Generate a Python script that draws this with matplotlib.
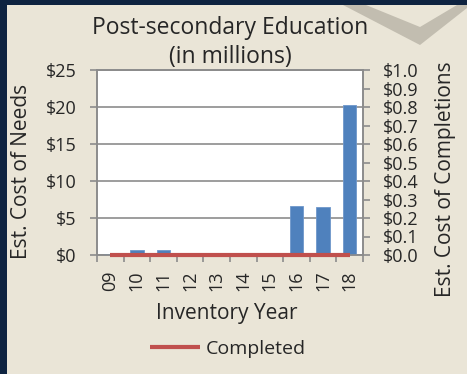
import numpy as np
import matplotlib.pyplot as plt
from matplotlib.patches import Rectangle, Polygon

plt.rcParams['font.family'] = ['Open Sans', 'DejaVu Sans']

# Dados
anos = ['09', '10', '11', '12', '13', '14', '15', '16', '17', '18']
custo_necessidades = [0.15, 0.7, 0.7, 0, 0, 0, 0, 6.6, 6.5, 20.3]
custo_concluidos = [0, 0, 0, 0, 0, 0, 0, 0, 0, 0]

cor_fundo = '#EAE5D7'
cor_borda = '#0E2340'
cor_barra = '#4F81BD'
cor_linha = '#C0504D'
cor_grade = '#8C8C8C'
cor_texto = '#262626'

W, H = 467, 374
fig = plt.figure(figsize=(W / 100, H / 100), dpi=100)
fig.patch.set_facecolor(cor_fundo)


def px(x, y):
    return (x / W, 1 - y / H)


# Moldura escura e o "V" decorativo no canto
fig.patches.append(Polygon([px(343, 5), px(420, 45), px(467, 8), px(467, 5),
                            px(457, 5), px(420, 27), px(366, 5)],
                           closed=True, transform=fig.transFigure,
                           facecolor='#C2BDB0', edgecolor='none', zorder=0))
fig.patches.append(Rectangle((0, 0), 7 / W, 1, transform=fig.transFigure,
                             facecolor=cor_borda, edgecolor='none', zorder=1))
fig.patches.append(Rectangle((0, 1 - 5 / H), 1, 5 / H, transform=fig.transFigure,
                             facecolor=cor_borda, edgecolor='none', zorder=1))

ax = fig.add_axes([97 / W, 1 - 255 / H, 266 / W, 185 / H])
ax.set_facecolor('white')
x = np.arange(len(anos))

ax.bar(x, custo_necessidades, 0.5, color=cor_barra, edgecolor='#6E97CB',
       linewidth=0.6, zorder=3)
ax.set_xlim(-0.5, len(anos) - 0.5)
ax.set_ylim(0, 25)
ax.set_yticks(np.arange(0, 26, 5))
ax.set_yticklabels([f'${v}' for v in range(0, 26, 5)])
ax.yaxis.grid(True, color=cor_grade, linewidth=1.2, zorder=1)

# marcas entre as categorias, rótulos no centro
ax.set_xticks(np.arange(-0.5, len(anos), 1.0))
ax.set_xticklabels([])
ax.set_xticks(x, minor=True)
ax.set_xticklabels(anos, minor=True, rotation=90)
ax.tick_params(axis='x', which='major', direction='out', length=5,
               width=1.2, color=cor_grade)
ax.tick_params(axis='x', which='minor', length=0, pad=11,
               labelsize=13, labelcolor=cor_texto)
ax.tick_params(axis='y', direction='out', length=5, width=1.2,
               color=cor_grade, labelsize=13, labelcolor=cor_texto, pad=10)

for lado in ax.spines.values():
    lado.set_color(cor_grade)
    lado.set_linewidth(1.2)

ax2 = ax.twinx()
ax2.plot(x, custo_concluidos, color=cor_linha, linewidth=3,
         solid_capstyle='butt', label='Completed', zorder=4, clip_on=False)
ax2.set_ylim(0, 1.0)
ax2.set_yticks(np.round(np.arange(0, 1.01, 0.1), 1))
ax2.set_yticklabels([f'${v:.1f}' for v in np.arange(0, 1.01, 0.1)])
ax2.tick_params(axis='y', direction='out', length=5, width=1.2,
                color=cor_grade, labelsize=13, labelcolor=cor_texto, pad=9)
for lado in ax2.spines.values():
    lado.set_color(cor_grade)
    lado.set_linewidth(1.2)

ax.set_title('Post-secondary Education\n(in millions)', fontsize=16.5,
             color=cor_texto, pad=5, linespacing=1.3)
ax.set_xlabel('Inventory Year', fontsize=15, color=cor_texto)
ax.xaxis.set_label_coords(0.489, -0.259)
ax.set_ylabel('Est. Cost of Needs', fontsize=15, color=cor_texto)
ax.yaxis.set_label_coords(-0.245, 0.45)
ax2.set_ylabel('Est. Cost of Completions', fontsize=15, color=cor_texto,
               rotation=90)
ax2.yaxis.set_label_coords(1.271, 0.41)

fig.legend(handles=ax2.get_lines(), loc='center',
           bbox_to_anchor=(228 / W, 1 - 349 / H), frameon=False,
           fontsize=14, handlelength=2.6, handletextpad=0.3,
           labelcolor=cor_texto)

fig.savefig('out.png', dpi=100, facecolor=fig.get_facecolor())
